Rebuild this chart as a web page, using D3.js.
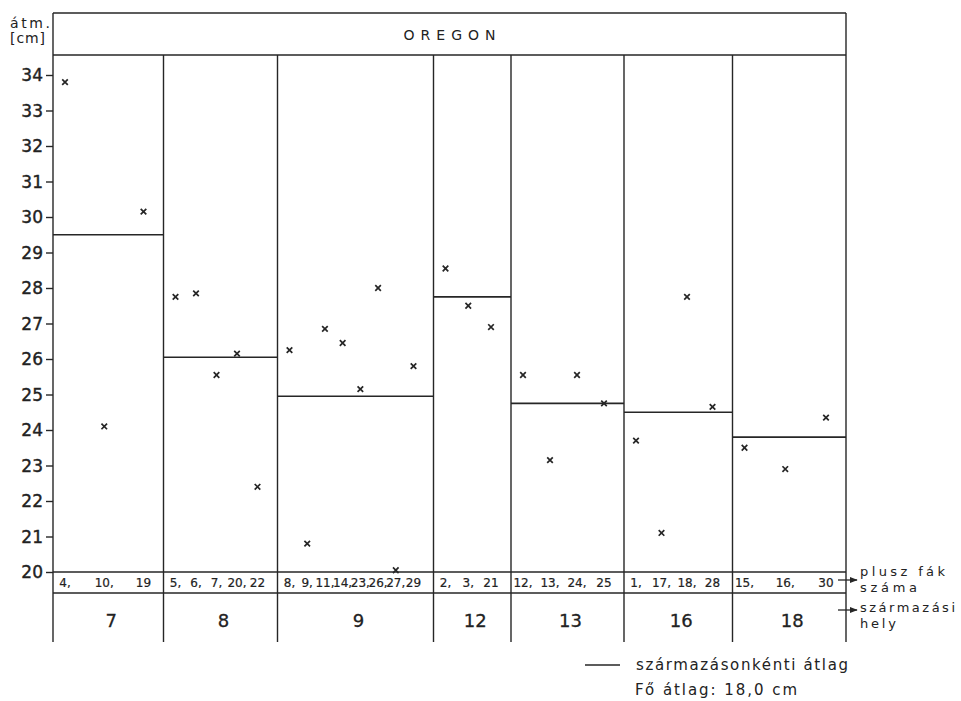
<!DOCTYPE html>
<html><head><meta charset="utf-8">
<script src="https://cdn.jsdelivr.net/npm/d3@7"></script>
<style>
body{margin:0;background:#fff}
text{font-family:"DejaVu Sans","Liberation Sans",sans-serif;fill:#222}
</style>
</head><body>
<svg id="c" width="961" height="701"></svg>
<script>
// ---------- data ----------
const chartTitle = "OREGON";
const yUnitLines = ["átm.", "[cm]"];
const origins = ["7", "8", "9", "12", "13", "16", "18"];
const treeIds = [
  [4, 10, 19],
  [5, 6, 7, 20, 22],
  [8, 9, 11, 14, 23, 26, 27, 29],
  [2, 3, 21],
  [12, 13, 24, 25],
  [1, 17, 18, 28],
  [15, 16, 30]
];
const treeValues = [
  [33.8, 24.1, 30.15],
  [27.75, 27.85, 25.55, 26.15, 22.4],
  [26.25, 20.8, 26.85, 26.45, 25.15, 28.0, 20.05, 25.8],
  [28.55, 27.5, 26.9],
  [25.55, 23.15, 25.55, 24.75],
  [23.7, 21.1, 27.75, 24.65],
  [23.5, 22.9, 24.35]
];
const originMeans = [29.5, 26.05, 24.95, 27.75, 24.75, 24.5, 23.8];
const yTickValues = [20, 21, 22, 23, 24, 25, 26, 27, 28, 29, 30, 31, 32, 33, 34];
const treeRowLabel = ["plusz fák", "száma"];
const originRowLabel = ["származási", "hely"];
const legendLabel = "származásonkénti átlag";
const grandMeanLabel = "Fő átlag: 18,0 cm";

// ---------- layout ----------
const W = 961, H = 701;
const frameL = 53, frameR = 846, frameTop = 13, headerBottom = 55, frameBottom = 642;
const rowBottom = 593;
const colWeights = [110.5, 114, 156, 77.5, 113, 108.5, 113.5];
const ink = "#262626";

const svg = d3.select("#c");
svg.append("rect").attr("width", W).attr("height", H).attr("fill", "#fff");

const edges = [0];
colWeights.forEach(w => edges.push(edges[edges.length - 1] + w));
const xCol = d3.scaleLinear().domain([0, edges[edges.length - 1]]).range([frameL, frameR]);
const y = d3.scaleLinear().domain([20, 34]).range([572, 75]);

const g = svg.append("g").attr("stroke", ink).attr("stroke-width", 1.4).attr("fill", "none");

// header box & frame
g.append("line").attr("x1", frameL).attr("x2", frameR).attr("y1", frameTop).attr("y2", frameTop);
g.append("line").attr("x1", frameL).attr("x2", frameR).attr("y1", headerBottom).attr("y2", headerBottom);
g.append("line").attr("x1", frameL).attr("x2", frameL).attr("y1", frameTop).attr("y2", frameBottom);
g.append("line").attr("x1", frameR).attr("x2", frameR).attr("y1", frameTop).attr("y2", frameBottom);

// column dividers
g.selectAll("line.div").data(edges.slice(1, -1)).join("line").attr("class", "div")
  .attr("x1", d => xCol(d)).attr("x2", d => xCol(d))
  .attr("y1", headerBottom).attr("y2", frameBottom);

// horizontal rows
g.append("line").attr("x1", frameL).attr("x2", frameR).attr("y1", y(20)).attr("y2", y(20));
g.append("line").attr("x1", frameL).attr("x2", frameR).attr("y1", rowBottom).attr("y2", rowBottom);

// origin means
g.selectAll("line.mean").data(originMeans).join("line").attr("class", "mean")
  .attr("x1", (d, i) => xCol(edges[i])).attr("x2", (d, i) => xCol(edges[i + 1]))
  .attr("y1", d => y(d)).attr("y2", d => y(d)).attr("stroke-width", 1.6);

// per-group point scales
const groupScales = origins.map((o, i) =>
  d3.scalePoint().domain(treeIds[i]).range([xCol(edges[i]) + 12, xCol(edges[i + 1]) - 20]));

// points
origins.forEach((o, i) => {
  const pts = treeIds[i].map((id, j) => ({ id, v: treeValues[i][j] }));
  g.append("g").selectAll("path").data(pts).join("path")
    .attr("transform", d => `translate(${groupScales[i](d.id)},${y(d.v)})`)
    .attr("d", "M-2.8,-2.8L2.8,2.8M2.8,-2.8L-2.8,2.8")
    .attr("stroke-width", 1.7);
  // tree number labels
  svg.append("g").selectAll("text").data(treeIds[i]).join("text")
    .attr("x", d => groupScales[i](d)).attr("y", 587)
    .attr("text-anchor", "middle").attr("font-size", 12)
    .attr("stroke", "#222").attr("stroke-width", 0.2)
    .text((d, j) => d + (j < treeIds[i].length - 1 ? "," : ""));
});

// origin labels
svg.append("g").selectAll("text").data(origins).join("text")
  .attr("x", (d, i) => xCol((edges[i] + edges[i + 1]) / 2) + 3).attr("y", 626.5)
  .attr("text-anchor", "middle").attr("font-size", 18)
  .attr("stroke", "#222").attr("stroke-width", 0.3).text(d => d);

// y axis
const yAxis = d3.axisLeft(y).tickValues(yTickValues).tickSize(7).tickPadding(3).tickFormat(d3.format("d"));
const ax = svg.append("g").attr("transform", `translate(${frameL},0)`).call(yAxis);
ax.select(".domain").remove();
ax.selectAll(".tick line").attr("stroke", ink).attr("stroke-width", 1.4);
ax.selectAll(".tick text").attr("font-size", 17).attr("font-family", "DejaVu Sans").attr("fill", "#222")
  .attr("stroke", "#222").attr("stroke-width", 0.4).attr("dy", "0.34em");

// unit label
svg.append("text").attr("x", 10).attr("y", 28).attr("font-size", 14)
  .attr("textLength", 40).attr("lengthAdjust", "spacing").text(yUnitLines[0]);
svg.append("text").attr("x", 10).attr("y", 43).attr("font-size", 14)
  .attr("textLength", 35).attr("lengthAdjust", "spacing").text(yUnitLines[1]);

// title
svg.append("text").attr("x", (frameL + frameR) / 2).attr("y", 39.5).attr("text-anchor", "middle")
  .attr("font-size", 14).attr("textLength", 92).attr("lengthAdjust", "spacing").text(chartTitle);

// arrows
const defs = svg.append("defs");
defs.append("marker").attr("id", "ah").attr("viewBox", "0 0 10 10").attr("refX", 9).attr("refY", 5)
  .attr("markerWidth", 6).attr("markerHeight", 6).attr("orient", "auto")
  .append("path").attr("d", "M0,1L10,5L0,9Z").attr("fill", ink);
[580, 610].forEach(yy => {
  svg.append("line").attr("x1", 838).attr("x2", 857).attr("y1", yy).attr("y2", yy)
    .attr("stroke", ink).attr("stroke-width", 1.3).attr("marker-end", "url(#ah)");
});

// right side row labels
const rl = [[treeRowLabel[0], 576, 85], [treeRowLabel[1], 592, 57], [originRowLabel[0], 612, 95], [originRowLabel[1], 628, 36]];
rl.forEach(([t, yy, len]) => {
  svg.append("text").attr("x", 860).attr("y", yy).attr("font-size", 13)
    .attr("textLength", len).attr("lengthAdjust", "spacing").text(t);
});

// legend
svg.append("line").attr("x1", 585).attr("x2", 620).attr("y1", 665).attr("y2", 665)
  .attr("stroke", ink).attr("stroke-width", 1.6);
svg.append("text").attr("x", 636).attr("y", 669.5).attr("font-size", 15)
  .attr("textLength", 212).attr("lengthAdjust", "spacing").text(legendLabel);
svg.append("text").attr("x", 635).attr("y", 694.5).attr("font-size", 15)
  .attr("textLength", 162).attr("lengthAdjust", "spacing").text(grandMeanLabel);
</script>
</body></html>
